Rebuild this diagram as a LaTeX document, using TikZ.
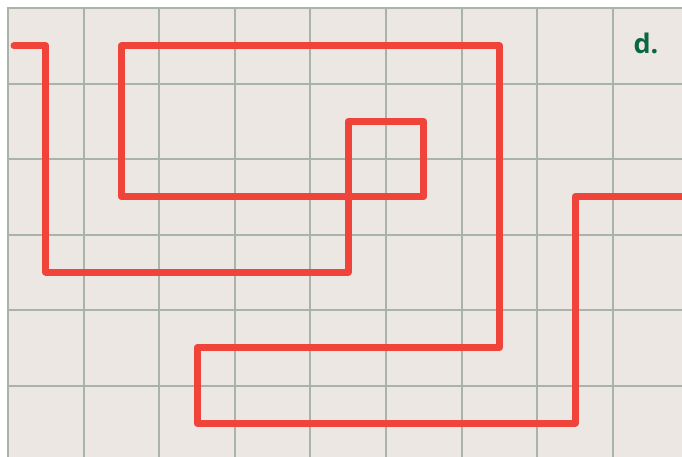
\documentclass[tikz,border=0pt]{standalone}
\usepackage{fontspec}
\setsansfont{Open Sans}
\definecolor{bgc}{HTML}{EDE7E3}
\definecolor{gridc}{HTML}{A8B4AA}
\definecolor{redc}{HTML}{F0433A}
\definecolor{greenc}{HTML}{0B6642}
\begin{document}
\begin{tikzpicture}[x=1pt,y=-1pt,
  gridline/.style={draw=gridc,line width=2pt},
  route/.style={draw=redc,line width=7pt,line cap=round,line join=round},
  label/.style={text=greenc,font=\sffamily\bfseries\fontsize{27}{30}\selectfont,inner sep=0pt}]
\useasboundingbox (0,0) rectangle (682,457);
\fill[white] (0,0) rectangle (682,457);
\fill[bgc] (8,8) rectangle (682,457);
\foreach \i in {0,...,8} {
  \draw[gridline] ({8+75.6*\i},7) -- ({8+75.6*\i},457);
}
\foreach \j in {0,...,5} {
  \draw[gridline] (7,{8+75.6*\j}) -- (682,{8+75.6*\j});
}
\coordinate (s) at (14,45.8);
\coordinate (e) at (685,196.6);
\draw[route] (s) -- (45.8,45.8) -- (45.8,272) -- (348.2,272) -- (348.2,121.4)
  -- (423.8,121.4) -- (423.8,196.6) -- (121.4,196.6) -- (121.4,45.8)
  -- (499.4,45.8) -- (499.4,347.6) -- (197,347.6) -- (197,423.2)
  -- (575,423.2) -- (575,196.6) -- (e);
\node[label,anchor=base] (d) at (646,54) {d.};
\end{tikzpicture}
\end{document}
